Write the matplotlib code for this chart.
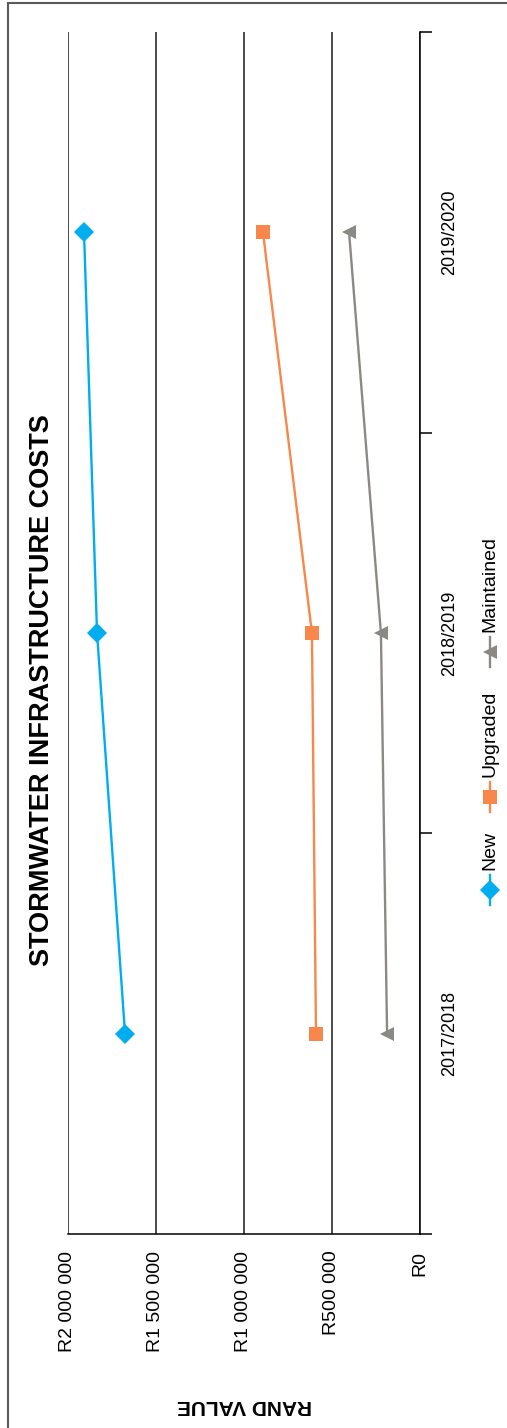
import matplotlib
matplotlib.use("Agg")
import matplotlib.pyplot as plt
from matplotlib.lines import Line2D

plt.rcParams['font.family'] = ['Liberation Sans', 'DejaVu Sans']

# Data
years = ["2017/2018", "2018/2019", "2019/2020"]
new_vals = [1676000, 1835000, 1909000]
upgraded_vals = [591000, 614000, 892000]
maintained_vals = [187000, 222000, 403000]
value_ticks = [0, 500000, 1000000, 1500000, 2000000]
value_labels = ["R0", "R500 000", "R1 000 000", "R1 500 000", "R2 000 000"]

series = [
    ("New", new_vals, "#00AEEF", "D", 10),
    ("Upgraded", upgraded_vals, "#F7874A", "s", 10.5),
    ("Maintained", maintained_vals, "#8C8985", "<", 10),
]

W, H = 507, 1428
fig = plt.figure(figsize=(W / 100, H / 100), dpi=100)


def fx(px):
    return px / W


def fy(py):
    return 1 - py / H


ax = fig.add_axes([fx(68), fy(1234), fx(420) - fx(68), fy(32) - fy(1234)])
pos = list(range(len(years)))

for name, vals, color, mk, ms in series:
    ax.plot(vals, pos, color=color, lw=1.7, marker=mk, ms=ms,
            markeredgewidth=0, zorder=3)

# Value axis (horizontal, increasing to the left)
ax.set_xlim(2000000, 0)
ax.set_xticks(value_ticks)
ax.set_xticklabels(value_labels, rotation=90, va='top', ha='center', fontsize=14)
ax.tick_params(axis='x', length=0, pad=12)
ax.xaxis.grid(True, color='#1a1a1a', lw=1.1)
ax.set_axisbelow(True)

# Category axis (vertical, on the right)
ax.set_ylim(-0.5, len(years) - 0.5)
ax.yaxis.tick_right()
ax.set_yticks([i - 0.5 for i in range(len(years) + 1)])
ax.set_yticklabels([])
ax.set_yticks(pos, minor=True)
ax.set_yticklabels(years, minor=True, rotation=90, va='center', ha='left', fontsize=13)
ax.tick_params(axis='y', which='major', length=8.6, width=1.1, color='black', direction='out')
ax.tick_params(axis='y', which='minor', length=0, pad=15)

for side in ('top', 'left'):
    ax.spines[side].set_visible(False)
for side in ('bottom', 'right'):
    ax.spines[side].set_color('black')
    ax.spines[side].set_linewidth(1.1)

# Titles
fig.text(fx(42), fy(690), "STORMWATER INFRASTRUCTURE COSTS", rotation=90,
         ha='center', va='center', fontsize=19.5, fontweight='bold')
fig.text(fx(245), fy(1405), "RAND VALUE", rotation=180,
         ha='center', va='center', fontsize=15, fontweight='bold')

# Legend drawn vertically
legend_y = [890, 797, 652]
for (name, vals, color, mk, ms), ly in zip(series, legend_y):
    fig.add_artist(Line2D([fx(490), fx(490)], [fy(ly + 15), fy(ly - 15)],
                          color=color, lw=1.7, transform=fig.transFigure))
    fig.add_artist(Line2D([fx(490)], [fy(ly)], color=color, marker=mk, ms=ms,
                          markeredgewidth=0, transform=fig.transFigure))
    fig.text(fx(490), fy(ly - 20), name, rotation=90, ha='center', va='bottom',
             fontsize=14)

# Outer frame
fig.add_artist(Line2D([fx(8), fx(8)], [0, fy(3)], color='#5a5a5a', lw=1.5,
                      transform=fig.transFigure))
fig.add_artist(Line2D([fx(8), 1], [fy(3), fy(3)], color='#5a5a5a', lw=1.5,
                      transform=fig.transFigure))

fig.savefig("out.png", dpi=100, facecolor='white')
